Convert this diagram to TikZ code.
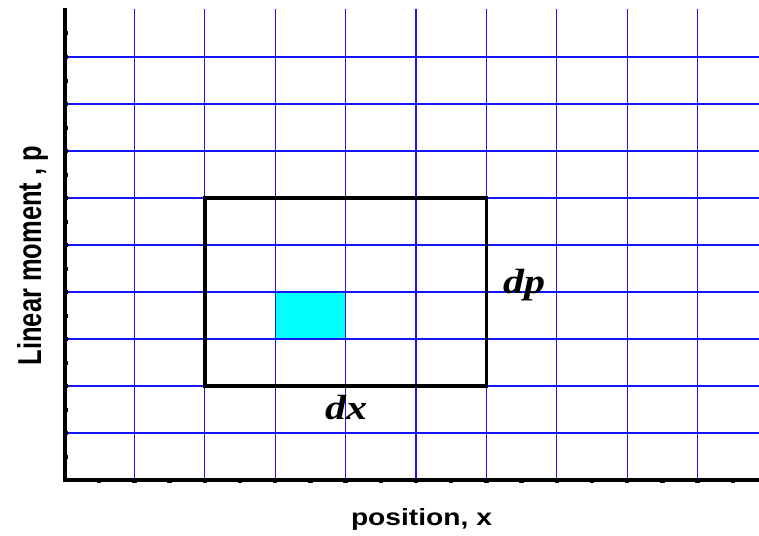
\documentclass[tikz,border=0pt]{standalone}
\usepackage{fontspec}
\newfontfamily\labfont[FakeStretch=1.2]{Liberation Sans}
\newfontfamily\vlabfont{Liberation Sans}
\newfontfamily\diffont[FakeStretch=1.2]{Liberation Serif}
\definecolor{gridblue}{RGB}{20,20,245}
\definecolor{cellcyan}{RGB}{0,255,255}
\tikzset{
  gridline/.style={gridblue, line width=1.1pt},
  axisline/.style={black, line width=3.4pt},
  boxline/.style={black, line width=3.4pt},
  tickmark/.style={fill=black, draw=none},
  difflabel/.style={font=\diffont\bfseries\itshape\fontsize{35}{35}\selectfont, inner sep=0pt}
}
\begin{document}
\begin{tikzpicture}[x=1pt,y=-1pt]
\useasboundingbox (0,0) rectangle (759,535);
% highlighted cell
\fill[cellcyan] (275.2,292) rectangle (345.6,339);
% grid
\foreach \i in {1,...,9}{
  \draw[gridline] (64+70.4*\i,9) -- (64+70.4*\i,480);
}
\foreach \j in {1,...,9}{
  \draw[gridline] (64,480-47*\j) -- (759,480-47*\j);
}
% box dx dp
\draw[boxline] (204.8,198) rectangle (486.4,386);
% axes
\draw[axisline] (65,8) -- (65,481.5);
\draw[axisline] (63.3,480) -- (759,480);
\foreach \k in {1,...,19}{
  \fill[tickmark] (64+35.2*\k-2.2,477.5) rectangle (64+35.2*\k+2.2,482.5);
}
\foreach \k in {1,...,19}{
  \fill[tickmark] (62.5,480-23.5*\k-2) rectangle (67.8,480-23.5*\k+2);
}
% labels
\node[difflabel, anchor=base] (dp) at (524,293) {dp};
\node[difflabel, anchor=base] (dx) at (346,419) {dx};
\node[anchor=base, inner sep=0pt] (xlab) at (421.5,525)
  {\labfont\bfseries\fontsize{23.5}{23.5}\selectfont position, x};
\node[rotate=90, anchor=base, inner sep=0pt] (ylab) at (41,255.5)
  {\scalebox{1}[1.3]{\vlabfont\bfseries\fontsize{25.5}{25.5}\selectfont Linear moment , p}};
\end{tikzpicture}
\end{document}
